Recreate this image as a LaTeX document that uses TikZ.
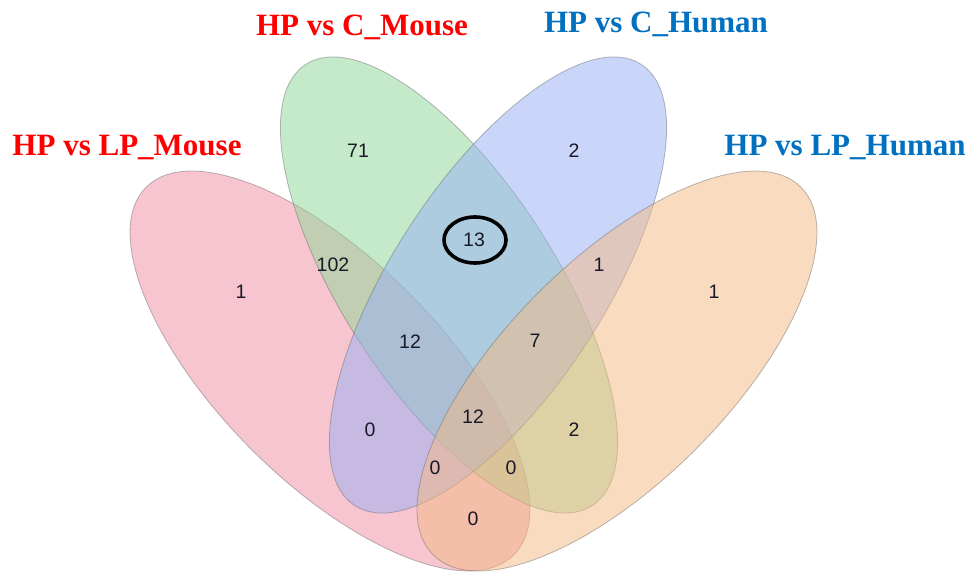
\documentclass[tikz,border=0pt]{standalone}
\usepackage{fontspec}
\setmainfont{Liberation Serif}
\newfontfamily\numfont{Liberation Sans}
\definecolor{setred}{RGB}{240,140,160}
\definecolor{setgreen}{RGB}{140,215,150}
\definecolor{setblue}{RGB}{150,175,245}
\definecolor{setorange}{RGB}{245,185,130}
\definecolor{titlered}{RGB}{255,0,0}
\definecolor{titleblue}{RGB}{0,112,192}
\definecolor{numcol}{RGB}{25,25,40}
\tikzset{
  setshape/.style={fill opacity=0.5, draw=black!60, draw opacity=0.45, line width=0.8pt},
  title/.style={font=\fontsize{31}{36}\selectfont\bfseries, anchor=base, inner sep=0pt},
  num/.style={font=\numfont\fontsize{19.5}{22}\selectfont, text=numcol, inner sep=0pt}
}
\begin{document}
\begin{tikzpicture}[x=1pt,y=1pt]
\useasboundingbox (0,0) rectangle (970,573);
% sets
\fill[white] (0,0) rectangle (970,573);
\draw[setshape, fill=setred, rotate around={-45:(330,202)}] (330,202) ellipse (260pt and 111pt);
\draw[setshape, fill=setgreen, rotate around={-57:(449,288)}] (449,288) ellipse (263pt and 106pt);
\draw[setshape, fill=setblue, rotate around={57:(498,288)}] (498,288) ellipse (263pt and 106pt);
\draw[setshape, fill=setorange, rotate around={45:(617,202)}] (617,202) ellipse (260pt and 111pt);
% titles
\node[title, text=titlered] (tA) at (127,417) {HP vs LP\_Mouse};
\node[title, text=titlered] (tB) at (362,537) {HP vs C\_Mouse};
\node[title, text=titleblue] (tC) at (656,540) {HP vs C\_Human};
\node[title, text=titleblue] (tD) at (845,417) {HP vs LP\_Human};
% counts
\node[num] (n71) at (358,422) {71};
\node[num] (nC) at (574,422) {2};
\node[num] (nA) at (241,281) {1};
\node[num] (nD) at (714,281) {1};
\node[num] (nAB) at (333,308) {102};
\node[num] (nBC) at (474,333) {13};
\node[num] (nCD) at (599,308) {1};
\node[num] (nABC) at (410,231) {12};
\node[num] (nBCD) at (535,232) {7};
\node[num] (nAC) at (370,143) {0};
\node[num] (nABCD) at (473,156) {12};
\node[num] (nBD) at (574,143) {2};
\node[num] (nACD) at (435,105) {0};
\node[num] (nABD) at (511,105) {0};
\node[num] (nAD) at (473,54) {0};
% highlight
\draw[line width=3.6pt, black] (nBC.center) ++(1,0) ellipse (31pt and 23pt);
\end{tikzpicture}
\end{document}
